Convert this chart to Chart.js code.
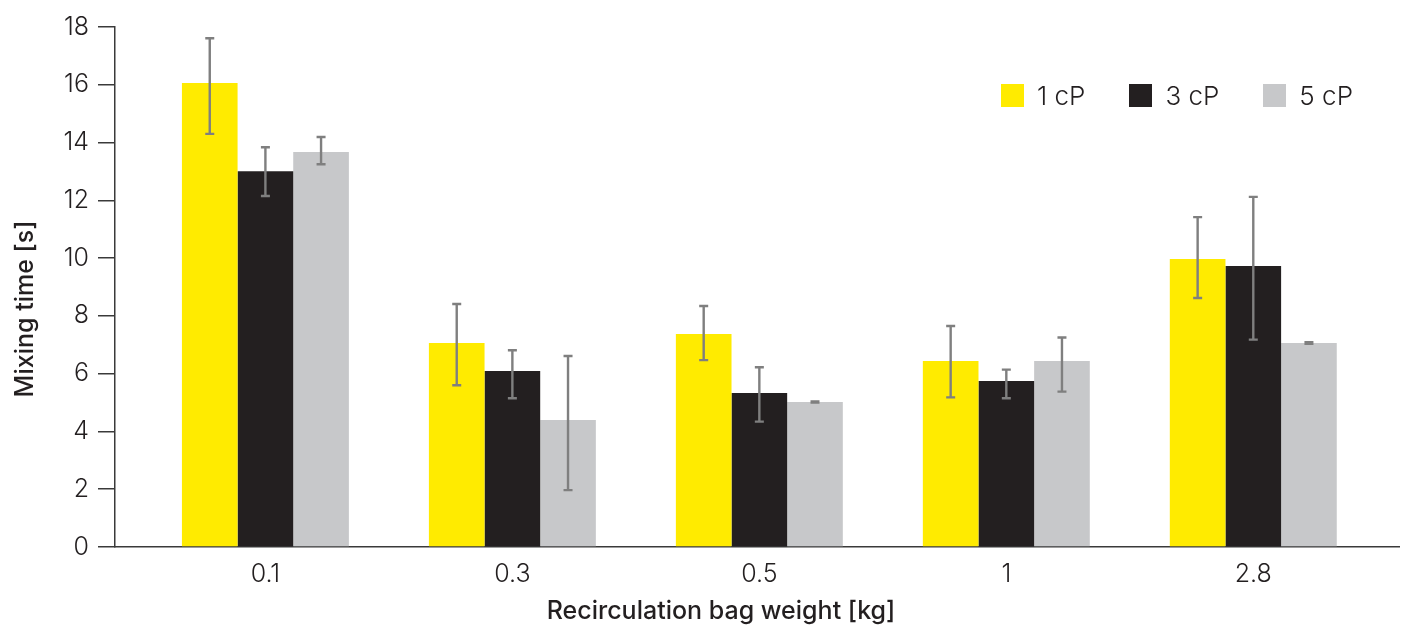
<!DOCTYPE html>
<html>
<head>
<meta charset="utf-8">
<script src="https://cdn.jsdelivr.net/npm/chart.js@4.4.0/dist/chart.umd.min.js"></script>
<style>
    html, body { margin: 0; padding: 0; background: #fff; }
    #wrap { position: relative; width: 1402px; height: 626px; }
    #legend { position: absolute; top: 84px; left: 1001px; display: flex; font-family: Inter, sans-serif; font-size: 26px; font-weight: 300; color: #231f20; }
    .item { display: flex; align-items: center; height: 23px; margin-right: 44px; }
    .box { width: 23px; height: 23px; margin-right: 13px; }
</style>
</head>
<body>
<div id="wrap">
    <canvas id="chart" width="1402" height="626"></canvas>
    <div id="legend"></div>
</div>
<script>
// categories on the x axis
const categories = ['0.1', '0.3', '0.5', '1', '2.8'];
const seriesNames = ['1 cP', '3 cP', '5 cP'];
const seriesColors = ['#ffeb00', '#231f20', '#c7c8ca'];

// mean mixing time [s]
const mix1cP = [16.06, 7.06, 7.37, 6.44, 9.97];
const mix3cP = [13.01, 6.09, 5.33, 5.75, 9.73];
const mix5cP = [13.67, 4.40, 5.02, 6.44, 7.06];

// error bar ends
const hi1cP = [17.61, 8.41, 8.34, 7.65, 11.42];
const lo1cP = [14.30, 5.60, 6.47, 5.18, 8.62];
const hi3cP = [13.84, 6.81, 6.22, 6.14, 12.12];
const lo3cP = [12.15, 5.15, 4.34, 5.15, 7.18];
const hi5cP = [14.19, 6.61, 5.04, 7.25, 7.09];
const lo5cP = [13.25, 1.97, 5.00, 5.38, 7.03];

const yTicks = [0, 2, 4, 6, 8, 10, 12, 14, 16, 18];

const xTitle = 'Recirculation bag weight [kg]';
const yTitle = 'Mixing time [s]';

const FONT = 'Inter, sans-serif';
const INK = '#231f20';

const means = [mix1cP, mix3cP, mix5cP];
const highs = [hi1cP, hi3cP, hi5cP];
const lows = [lo1cP, lo3cP, lo5cP];

const datasets = seriesNames.map((name, s) => ({
    label: name,
    data: means[s].map((v, i) => ({ x: i, y: v })),
    errHigh: highs[s],
    errLow: lows[s],
    backgroundColor: seriesColors[s],
    borderWidth: 0,
    categoryPercentage: 0.676,
    barPercentage: 1.0
}));

const errorBars = {
    id: 'errorBars',
    afterDatasetsDraw(chart) {
        const { ctx } = chart;
        const y = chart.scales.y;
        ctx.save();
        ctx.strokeStyle = '#7f7f7f';
        ctx.lineWidth = 2.4;
        chart.data.datasets.forEach((ds, di) => {
            chart.getDatasetMeta(di).data.forEach((bar, i) => {
                const top = y.getPixelForValue(ds.errHigh[i]);
                const bot = y.getPixelForValue(ds.errLow[i]);
                ctx.beginPath();
                ctx.moveTo(bar.x, top);
                ctx.lineTo(bar.x, bot);
                ctx.moveTo(bar.x - 4.5, top);
                ctx.lineTo(bar.x + 4.5, top);
                ctx.moveTo(bar.x - 4.5, bot);
                ctx.lineTo(bar.x + 4.5, bot);
                ctx.stroke();
            });
        });
        ctx.restore();
    }
};

// axis titles sit a little off-centre in the original, so draw them here
const axisTitles = {
    id: 'axisTitles',
    afterDraw(chart) {
        const { ctx, chartArea } = chart;
        ctx.save();
        ctx.fillStyle = INK;
        ctx.font = `500 25px ${FONT}`;
        ctx.textAlign = 'center';
        ctx.textBaseline = 'alphabetic';
        ctx.fillText(xTitle, (chartArea.left + chartArea.right) / 2 - 36, chartArea.bottom + 72);
        ctx.translate(chartArea.left - 82, (chartArea.top + chartArea.bottom) / 2 + 22);
        ctx.rotate(-Math.PI / 2);
        ctx.fillText(yTitle, 0, 0);
        ctx.restore();
    }
};

new Chart(document.getElementById('chart'), {
    type: 'bar',
    data: { datasets },
    plugins: [errorBars, axisTitles],
    options: {
        responsive: false,
        animation: false,
        layout: { padding: { top: 27, right: 3, left: 0, bottom: 0 } },
        plugins: {
            legend: { display: false },
            tooltip: { enabled: false }
        },
        scales: {
            x: {
                type: 'linear',
                offset: false,
                bounds: 'data',
                min: -0.609,
                max: 4.59,
                afterBuildTicks: scale => {
                    scale.ticks = categories.map((c, i) => ({ value: i }));
                },
                afterFit: scale => { scale.height = 79; },
                grid: { display: true, offset: false, drawOnChartArea: false, drawTicks: false, color: 'rgba(0,0,0,0)' },
                border: { display: true, color: '#3a3a3a', width: 1.5 },
                ticks: {
                    padding: 12,
                    color: INK,
                    font: { family: FONT, size: 25, weight: 300 },
                    callback: v => categories[v]
                },
                title: { display: false }
            },
            y: {
                min: 0,
                max: 18,
                afterBuildTicks: scale => {
                    scale.ticks = yTicks.map(v => ({ value: v }));
                },
                afterFit: scale => { scale.width = 115; },
                grid: { drawOnChartArea: false, drawTicks: true, tickLength: 17, color: '#3a3a3a', lineWidth: 1.5 },
                border: { display: true, color: '#3a3a3a', width: 1.5 },
                ticks: {
                    padding: 9,
                    color: INK,
                    font: { family: FONT, size: 25, weight: 300 }
                },
                title: { display: false }
            }
        }
    }
});

// legend
const legend = document.getElementById('legend');
seriesNames.forEach((name, s) => {
    const item = document.createElement('div');
    item.className = 'item';
    item.innerHTML = `<span class="box" style="background:${seriesColors[s]}"></span><span>${name}</span>`;
    legend.appendChild(item);
});
</script>
</body>
</html>
